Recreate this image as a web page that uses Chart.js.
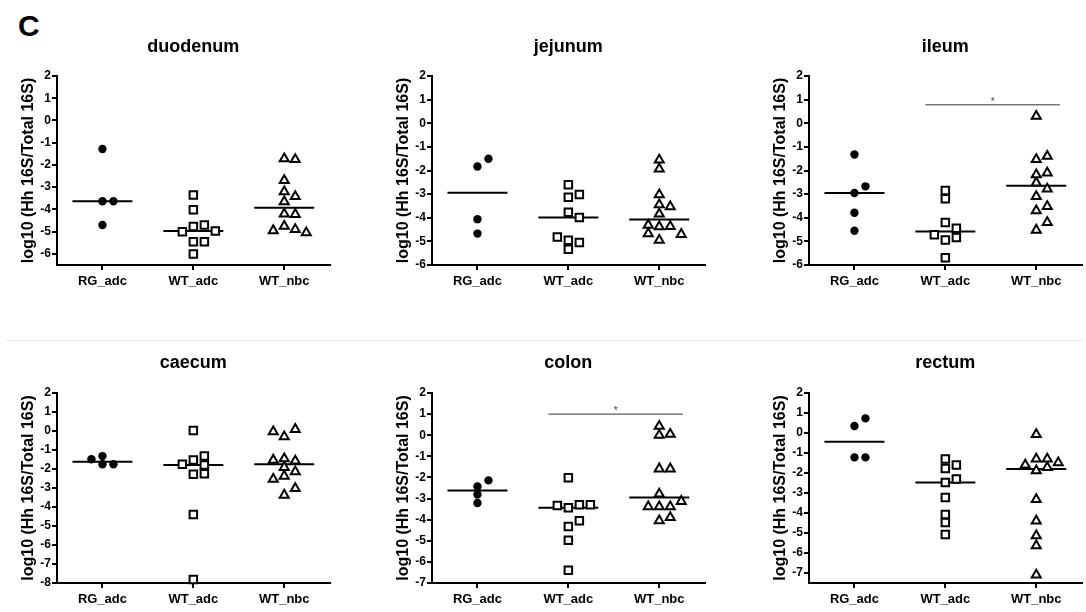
<!DOCTYPE html>
<html>
<head>
<meta charset="utf-8">
<script src="https://cdn.jsdelivr.net/npm/chart.js@4.4.0/dist/chart.umd.min.js"></script>
<style>
  body { margin: 0; width: 1086px; height: 612px; overflow: hidden; background: #fff; position: relative; }
  canvas { position: absolute; }
  #letter { position: absolute; left: 18px; top: 11px; font: bold 30px/1 "Liberation Sans", Arial, sans-serif; }
  #sep { position: absolute; left: 5px; top: 340px; width: 1078px; height: 1px; background: #eee; }
</style>
</head>
<body>
<div id="letter">C</div>
<div id="sep"></div>
<canvas id="p0"></canvas>
<canvas id="p1"></canvas>
<canvas id="p2"></canvas>
<canvas id="p3"></canvas>
<canvas id="p4"></canvas>
<canvas id="p5"></canvas>
<script>
// groups on the x axis
const categories = ["RG_adc", "WT_adc", "WT_nbc"];
const panelTitles = ["duodenum", "jejunum", "ileum", "caecum", "colon", "rectum"];
const yAxisTitle = "log10 (Hh 16S/Total 16S)";

// y tick labels
const yTicks6 = [2, 1, 0, -1, -2, -3, -4, -5, -6];
const yTicks7 = [2, 1, 0, -1, -2, -3, -4, -5, -6, -7];
const yTicks8 = [2, 1, 0, -1, -2, -3, -4, -5, -6, -7, -8];

// log10 values (order only changes the side-by-side spreading)
const duodenumRG = [-1.28, -3.63, -3.63, -4.70];
const duodenumWTadc = [-3.35, -4.02, -4.77, -4.70, -5.00, -4.97, -5.45, -5.45, -6.01];
const duodenumWTnbc = [-1.72, -1.75, -2.70, -3.20, -3.42, -3.65, -4.20, -4.22, -4.75, -4.90, -4.95, -5.05];

const jejunumRG = [-1.83, -1.50, -4.06, -4.67];
const jejunumWTadc = [-2.60, -3.13, -3.02, -3.77, -3.99, -5.33, -5.05, -4.95, -4.81];
const jejunumWTnbc = [-1.93, -1.55, -3.02, -3.84, -3.45, -3.53, -4.38, -4.37, -4.31, -4.67, -4.70, -4.95];

const ileumRG = [-1.32, -2.95, -2.67, -3.79, -4.55];
const ileumWTadc = [-3.20, -2.85, -4.20, -4.44, -4.94, -4.84, -4.72, -5.69];
const ileumWTnbc = [0.30, -1.53, -1.39, -2.52, -2.78, -2.18, -2.10, -3.10, -3.70, -3.52, -4.52, -4.20];

const caecumRG = [-1.75, -1.75, -1.49, -1.32];
const caecumWTadc = [0.02, -1.53, -1.79, -1.32, -1.75, -2.28, -2.25, -4.39, -7.81];
const caecumWTnbc = [-0.30, 0.09, -0.04, -1.91, -1.58, -1.53, -1.46, -2.14, -2.37, -2.54, -3.37, -3.02];

const colonRG = [-2.43, -2.81, -2.14, -3.21];
const colonWTadc = [-2.02, -3.44, -3.29, -3.33, -3.29, -4.32, -4.05, -4.97, -6.40];
const colonWTnbc = [0.00, 0.05, 0.43, -1.59, -1.59, -2.78, -3.38, -3.38, -3.38, -3.13, -4.05, -3.89];

const rectumRG = [0.35, 0.73, -1.22, -1.22];
const rectumWTadc = [-1.77, -1.60, -1.30, -2.47, -2.30, -3.22, -4.48, -4.07, -5.07];
const rectumWTnbc = [-0.07, -1.88, -1.72, -1.60, -1.48, -1.30, -1.30, -3.32, -4.40, -5.13, -5.63, -7.10];

// significance bars (WT_adc vs WT_nbc)
const ileumSig = 0.78;
const colonSig = 1.0;

const panels = [
  { groups: [duodenumRG, duodenumWTadc, duodenumWTnbc], yMin: -6.5, ticks: yTicks6, sig: null },
  { groups: [jejunumRG, jejunumWTadc, jejunumWTnbc], yMin: -6, ticks: yTicks6, sig: null },
  { groups: [ileumRG, ileumWTadc, ileumWTnbc], yMin: -6, ticks: yTicks6, sig: ileumSig },
  { groups: [caecumRG, caecumWTadc, caecumWTnbc], yMin: -8, ticks: yTicks8, sig: null },
  { groups: [colonRG, colonWTadc, colonWTnbc], yMin: -7, ticks: yTicks7, sig: colonSig },
  { groups: [rectumRG, rectumWTadc, rectumWTnbc], yMin: -7.5, ticks: yTicks7, sig: null }
];

const FONT = '"Liberation Sans", Arial, sans-serif';
Chart.defaults.font.family = FONT;
Chart.defaults.color = "#000";

const colLeft = [0, 375, 752];
const rowTop = [30, 347];
const rowHeight = [263, 264];
const titleBase = [22, 21];

const markerStyles = [
  { pointStyle: "circle", pointRadius: 4.2, backgroundColor: "#000", borderColor: "#000", borderWidth: 0 },
  { pointStyle: "rect", pointRadius: 5.3, backgroundColor: "#fff", borderColor: "#000", borderWidth: 2 },
  { pointStyle: "triangle", pointRadius: 5.2, backgroundColor: "#fff", borderColor: "#000", borderWidth: 2 }
];

const SLOTS = [0, 1, -1, 2, -2, 3, -3, 4, -4];
const STEP_PX = 11;
const CLASH_PX = 8;
const HALF_MEDIAN = 0.33;
const SIG_FROM = 0.78, SIG_TO = 2.26;

function median(a) {
  const s = [...a].sort((p, q) => p - q);
  const m = s.length >> 1;
  return s.length % 2 ? s[m] : (s[m - 1] + s[m]) / 2;
}

const panelDeco = {
  id: "panelDeco",
  afterDraw(chart, args, opts) {
    const { ctx, chartArea, scales } = chart;
    ctx.save();
    ctx.fillStyle = "#000";
    ctx.font = "bold 18px " + FONT;
    ctx.textAlign = "center";
    ctx.textBaseline = "alphabetic";
    ctx.fillText(opts.title, (chartArea.left + chartArea.right) / 2, opts.titleBaseline);
    if (opts.sig != null) {
      ctx.fillStyle = "#444";
      ctx.font = "10px " + FONT;
      ctx.textBaseline = "bottom";
      ctx.fillText("*", scales.x.getPixelForValue((SIG_FROM + SIG_TO) / 2), scales.y.getPixelForValue(opts.sig) + 2);
    }
    ctx.restore();
  }
};

// spread points with close values side by side, like a column scatter
function dodge(chart) {
  const xs = chart.scales.x, ys = chart.scales.y;
  const pxPerCat = xs.getPixelForValue(1) - xs.getPixelForValue(0);
  chart.data.datasets.forEach(ds => {
    if (ds.cat === undefined) return;
    const placed = [];
    ds.data.forEach(pt => {
      const py = ys.getPixelForValue(pt.y);
      for (const k of SLOTS) {
        if (placed.every(p => p.k !== k || Math.abs(p.py - py) >= CLASH_PX)) {
          placed.push({ k, py });
          pt.x = ds.cat + k * STEP_PX / pxPerCat;
          break;
        }
      }
    });
  });
  chart.update("none");
}

panels.forEach((p, i) => {
  const row = Math.floor(i / 3), col = i % 3;
  const cv = document.getElementById("p" + i);
  cv.width = 337;
  cv.height = rowHeight[row];
  cv.style.left = colLeft[col] + "px";
  cv.style.top = rowTop[row] + "px";

  const datasets = [];
  p.groups.forEach((vals, g) => {
    datasets.push(Object.assign({
      type: "scatter",
      cat: g,
      data: vals.map(v => ({ x: g, y: v })),
      clip: false,
      order: 1
    }, markerStyles[g]));
  });
  p.groups.forEach((vals, g) => {
    const m = median(vals);
    datasets.push({
      type: "line",
      data: [{ x: g - HALF_MEDIAN, y: m }, { x: g + HALF_MEDIAN, y: m }],
      borderColor: "#000",
      borderWidth: 2,
      pointRadius: 0,
      clip: false,
      order: 2
    });
  });
  if (p.sig != null) {
    datasets.push({
      type: "line",
      data: [{ x: SIG_FROM, y: p.sig }, { x: SIG_TO, y: p.sig }],
      borderColor: "#333",
      borderWidth: 1,
      pointRadius: 0,
      clip: false
    });
  }

  const chart = new Chart(cv, {
    type: "scatter",
    data: { datasets },
    options: {
      responsive: false,
      animation: false,
      events: [],
      devicePixelRatio: 1,
      layout: { padding: { top: 46, left: 0, right: 0, bottom: 0 } },
      plugins: {
        legend: { display: false },
        tooltip: { enabled: false },
        panelDeco: { title: panelTitles[i], titleBaseline: titleBase[row], sig: p.sig }
      },
      scales: {
        x: {
          type: "linear",
          min: -0.5,
          max: 2.5,
          afterBuildTicks: axis => { axis.ticks = categories.map((c, k) => ({ value: k })); },
          afterFit: axis => { axis.height = 28; },
          ticks: {
            callback: v => categories[v],
            font: { size: 13, weight: "bold" },
            color: "#000",
            padding: 4,
            maxRotation: 0
          },
          grid: { drawOnChartArea: false, drawTicks: true, tickLength: 5, color: "#000", lineWidth: 2 },
          border: { display: true, color: "#000", width: 2 }
        },
        y: {
          min: p.yMin,
          max: 2,
          afterBuildTicks: axis => { axis.ticks = p.ticks.map(v => ({ value: v })); },
          afterFit: axis => { axis.width = 57; },
          ticks: {
            callback: v => String(v),
            font: { size: 12, weight: "bold" },
            color: "#000",
            padding: 1
          },
          grid: { drawOnChartArea: false, drawTicks: true, tickLength: 5, color: "#000", lineWidth: 2 },
          border: { display: true, color: "#000", width: 2 },
          title: {
            display: true,
            text: yAxisTitle,
            font: { size: 16, weight: "bold" },
            color: "#000",
            padding: { top: 19, bottom: 0 }
          }
        }
      }
    },
    plugins: [panelDeco]
  });
  dodge(chart);
});
</script>
</body>
</html>
